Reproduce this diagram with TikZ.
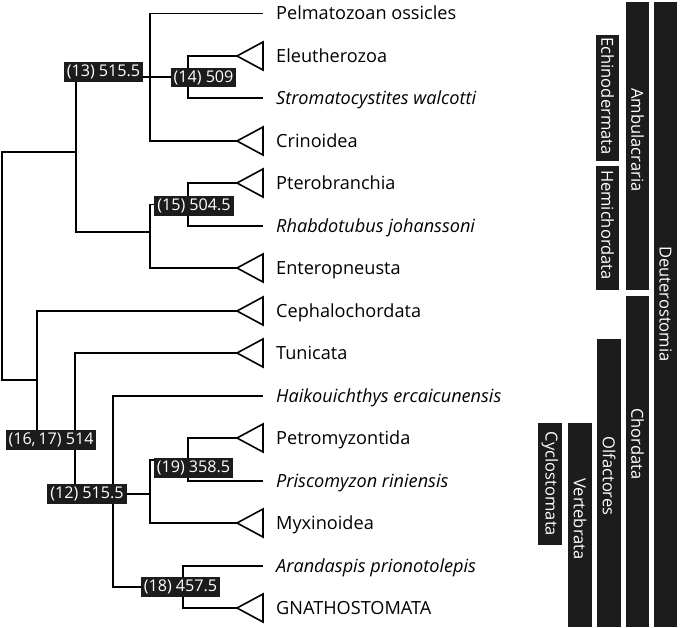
\documentclass[tikz,border=0pt]{standalone}
\usepackage{fontspec}
\setmainfont{Open Sans}
\definecolor{ink}{HTML}{1C1C1C}
\begin{document}
\begin{tikzpicture}[x=1bp,y=-1bp,
  branch/.style={draw=black,line width=1.8bp},
  tri/.style={draw=black,line width=1.6bp,fill=white,line join=miter},
  taxon/.style={anchor=base west,inner sep=0pt,font=\fontsize{18.2}{20}\selectfont},
  sp/.style={taxon,font=\fontsize{18.2}{20}\selectfont\itshape},
  nlab/.style={fill=ink,text=white,inner xsep=3bp,inner ysep=0pt,minimum height=19.5bp,font=\fontsize{16.2}{18}\selectfont},
  barbox/.style={fill=ink,draw=none},
  bartext/.style={text=white,rotate=-90,inner sep=0pt,font=\fontsize{16.6}{18}\selectfont}]
\fill[white] (0,0) rectangle (680,628);
\useasboundingbox (0,0) rectangle (680,628);
% tip end points
\coordinate (e1) at (263,13.5);
\coordinate (e2) at (237,56);
\coordinate (e3) at (263,98);
\coordinate (e4) at (237,141);
\coordinate (e5) at (237,183);
\coordinate (e6) at (263,226);
\coordinate (e7) at (237,268);
\coordinate (e8) at (237,311);
\coordinate (e9) at (237,353);
\coordinate (e10) at (263,396);
\coordinate (e11) at (237,438);
\coordinate (e12) at (263,481);
\coordinate (e13) at (237,523);
\coordinate (e14) at (263,566);
\coordinate (e15) at (237,608);
% internal nodes
\coordinate (n14) at (188,77);
\coordinate (n13) at (150,77);
\coordinate (n15) at (188,204.5);
\coordinate (nH) at (150,232);
\coordinate (nA) at (76,152);
\coordinate (root) at (2,266);
\coordinate (n1617) at (37,380);
\coordinate (nO) at (75,440);
\coordinate (n12) at (113,494);
\coordinate (nC) at (150,494);
\coordinate (n19) at (188,460);
\coordinate (n18) at (183,587);
% branches
\draw[branch] (n14) |- (e2); \draw[branch] (n14) |- (e3);
\draw[branch] (n13) |- (e1); \draw[branch] (n13) -- (n14); \draw[branch] (n13) |- (e4);
\draw[branch] (n15) |- (e5); \draw[branch] (n15) |- (e6);
\draw[branch] (nH) |- (n15); \draw[branch] (nH) |- (e7);
\draw[branch] (nA) |- (n13); \draw[branch] (nA) |- (nH);
\draw[branch] (root) |- (nA); \draw[branch] (root) |- (n1617);
\draw[branch] (n1617) |- (e8); \draw[branch] (n1617) |- (nO);
\draw[branch] (nO) |- (e9); \draw[branch] (nO) |- (n12);
\draw[branch] (n12) |- (e10); \draw[branch] (n12) -- (nC); \draw[branch] (n12) |- (n18);
\draw[branch] (nC) |- (n19); \draw[branch] (nC) |- (e13);
\draw[branch] (n19) |- (e11); \draw[branch] (n19) |- (e12);
\draw[branch] (n18) |- (e14); \draw[branch] (n18) |- (e15);
% triangles
\foreach \e in {e2,e4,e5,e7,e8,e9,e11,e13,e15}{
  \draw[tri] (\e) -- ++(26,-14) -- ++(0,28) -- cycle;
}
% taxa
\node[taxon] (t1) at (276,20) {Pelmatozoan ossicles};
\node[taxon] (t2) at (276,62.5) {Eleutherozoa};
\node[sp] (t3) at (276,104.5) {Stromatocystites walcotti};
\node[taxon] (t4) at (276,147.5) {Crinoidea};
\node[taxon] (t5) at (276,189.5) {Pterobranchia};
\node[sp] (t6) at (276,232.5) {Rhabdotubus johanssoni};
\node[taxon] (t7) at (276,274.5) {Enteropneusta};
\node[taxon] (t8) at (276,317.5) {Cephalochordata};
\node[taxon] (t9) at (276,359.5) {Tunicata};
\node[sp] (t10) at (276,402.5) {Haikouichthys ercaicunensis};
\node[taxon] (t11) at (276,444.5) {Petromyzontida};
\node[sp] (t12) at (276,487.5) {Priscomyzon riniensis};
\node[taxon] (t13) at (276,529.5) {Myxinoidea};
\node[sp] (t14) at (276,572.5) {Arandaspis prionotolepis};
\node[taxon] (t15) at (276,614.5) {GNATHOSTOMATA};
% node labels
\node[nlab] (l13) at (103.5,72) {(13) 515.5};
\node[nlab] (l14) at (203.5,77.5) {(14) 509};
\node[nlab] (l15) at (194,206) {(15) 504.5};
\node[nlab] (l1617) at (51,440) {(16,\,17) 514};
\node[nlab] (l12) at (87,494) {(12) 515.5};
\node[nlab] (l19) at (193.5,468) {(19) 358.5};
\node[nlab] (l18) at (180.5,587) {(18) 457.5};
% clade bars
\fill[barbox] (654,2) rectangle (677,627);
\fill[barbox] (626,2) rectangle (649,290);
\fill[barbox] (626,296) rectangle (649,627);
\fill[barbox] (596,35) rectangle (619,161);
\fill[barbox] (596,166) rectangle (619,290);
\fill[barbox] (597,339) rectangle (621,627);
\fill[barbox] (568,423) rectangle (592,627);
\fill[barbox] (538,423) rectangle (562,545);
\node[bartext] (bDeu) at (665.5,304) {Deuterostomia};
\node[bartext] (bAmb) at (637.5,140) {Ambulacraria};
\node[bartext] (bCho) at (637.5,444) {Chordata};
\node[bartext] (bEch) at (607.5,96) {Echinodermata};
\node[bartext] (bHem) at (607.5,225) {Hemichordata};
\node[bartext] (bOlf) at (609,476) {Olfactores};
\node[bartext] (bVer) at (580,519) {Vertebrata};
\node[bartext] (bCyc) at (550,484) {Cyclostomata};
\end{tikzpicture}
\end{document}
